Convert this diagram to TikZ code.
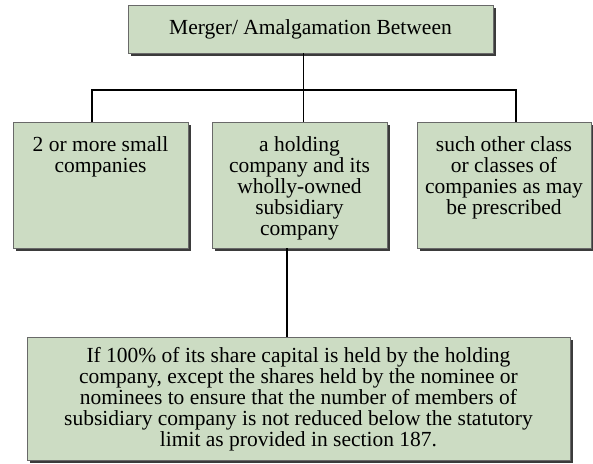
\documentclass[tikz,border=0pt]{standalone}
\usepackage{fontspec}
\setmainfont{Liberation Serif}
\usepackage{tikz}
\usetikzlibrary{
  positioning,
  shadows
}
\definecolor{BoxGreen}{RGB}{204,220,195}
\definecolor{BoxEdge}{RGB}{105,105,105}

\begin{document}
\begin{tikzpicture}[x=1pt,y=-1pt,
  font=\fontsize{21.5}{21}\selectfont,
  box/.style={draw=BoxEdge, line width=0.7pt, fill=BoxGreen,
    inner sep=0pt, outer sep=0pt,
    drop shadow={shadow xshift=2.5pt, shadow yshift=-2.5pt,
      fill=black!85, opacity=0.9}},
  txt/.style={align=center, inner sep=0pt},
  link/.style={line width=1.1pt, black}]
  \useasboundingbox (0,0) rectangle (593,463);

  % ---------- 方框 ----------
  \node[box, minimum width=365, minimum height=48] (merger) at (310.5,29)
    {Merger/ Amalgamation Between};
  \node[box, minimum width=175, minimum height=126] (small) at (100.5,185) {};
  \node[box, minimum width=175, minimum height=126] (holding) at (299.5,185) {};
  \node[box, minimum width=174, minimum height=126] (other) at (504,185) {};
  \node[box, minimum width=543, minimum height=123] (cond) at (298.5,398.5) {};

  % 文字（靠上）
  \node[txt, below=14pt of small.north] (smallT)
    {2 or more small\\companies};
  \node[txt, below=14pt of holding.north] (holdingT)
    {a holding\\company and its\\wholly-owned\\subsidiary\\company};
  \node[txt, below=14pt of other.north] (otherT)
    {such other class\\or classes of\\companies as may\\be prescribed};
  \node[txt, below=10pt of cond.north] (condT)
    {If 100\% of its share capital is held by the holding\\
     company, except the shares held by the nominee or\\
     nominees to ensure that the number of members of\\
     subsidiary company is not reduced below the statutory\\
     limit as provided in section 187.};

  % ---------- 连线 ----------
  \coordinate (busL) at (92,90);
  \coordinate (busM) at (303.5,90);
  \coordinate (busR) at (516,90);
  \coordinate (drop) at (287,0);
  \draw[link] (busM |- merger.south) -- (busM |- holding.north);
  \draw[link] (busL |- small.north) -- (busL) -- (busR) -- (busR |- other.north);
  \draw[link] (drop |- holding.south) -- (drop |- cond.north);
\end{tikzpicture}
\end{document}
